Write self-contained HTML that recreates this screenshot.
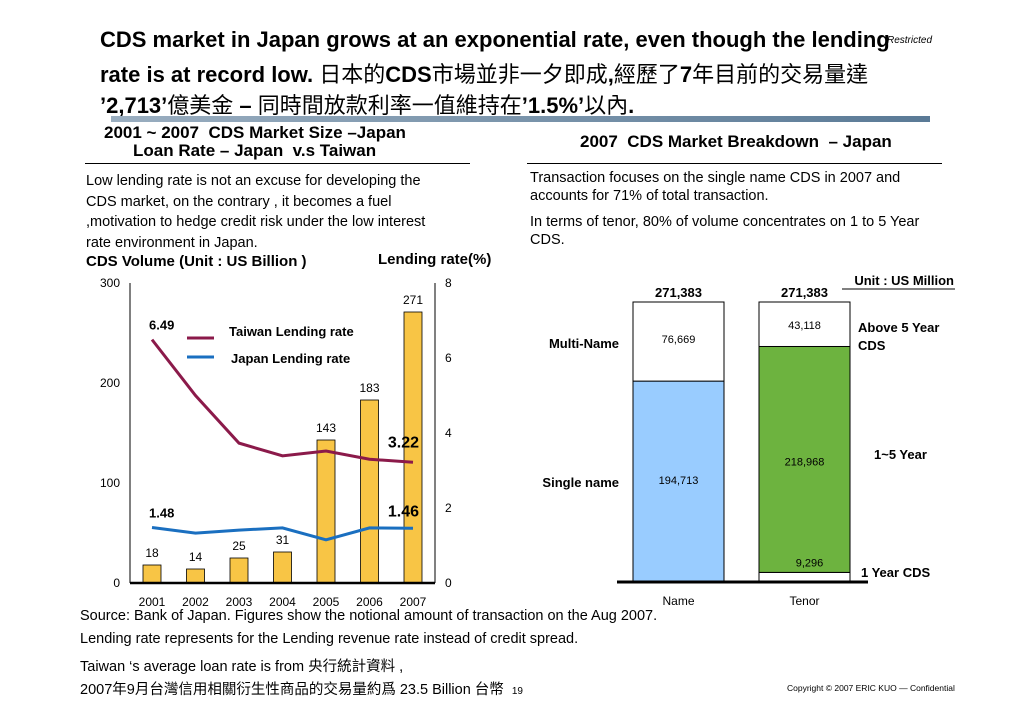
<!DOCTYPE html>
<html><head><meta charset="utf-8">
<style>
body{margin:0;width:1030px;height:728px;background:#fff;position:relative;overflow:hidden;font-family:"Liberation Sans","Noto Sans CJK TC",sans-serif;color:#000}
.t{position:absolute;white-space:nowrap;transform-origin:0 0}
.b{font-weight:bold}
svg text{font-family:"Liberation Sans","Noto Sans CJK TC",sans-serif}
</style></head><body>
<div class="t b" style="left:100px;top:27px;font-size:22px">CDS market in Japan grows at an exponential rate, even though the lending</div>
<div class="t" style="left:887px;top:35px;font-size:10px;font-style:italic">Restricted</div>
<div class="t b" style="left:100px;top:57px;font-size:22px">rate is at record low. <span style="font-weight:normal">日本的</span>CDS<span style="font-weight:normal">市場並非一夕即成</span>,<span style="font-weight:normal">經歷了</span>7<span style="font-weight:normal">年目前的交易量達</span></div>
<div class="t b" style="left:100px;top:88px;font-size:22px">’2,713’<span style="font-weight:normal">億美金</span> – <span style="font-weight:normal">同時間放款利率一值維持在</span>’1.5%’<span style="font-weight:normal">以內</span>.</div>
<div style="position:absolute;left:111px;top:116px;width:819px;height:6px;background:linear-gradient(90deg,#9aaec0,#5a7a96)"></div>

<div class="t b" style="left:104px;top:123px;font-size:17px">2001 ~ 2007&nbsp; CDS Market Size –Japan</div>
<div class="t b" style="left:133px;top:141px;font-size:17px">Loan Rate – Japan&nbsp; v.s Taiwan</div>
<div style="position:absolute;left:85px;top:163px;width:385px;height:1px;background:#000"></div>
<div class="t b" style="left:580px;top:132px;font-size:17px">2007&nbsp; CDS Market Breakdown&nbsp; – Japan</div>
<div style="position:absolute;left:527px;top:163px;width:415px;height:1px;background:#000"></div>

<div style="position:absolute;left:86px;top:171px;font-size:14.5px;line-height:20.5px;white-space:nowrap">Low lending rate is not an excuse for developing the<br>CDS market, on the contrary , it becomes a fuel<br>,motivation to hedge credit risk under the low interest<br>rate environment in Japan.</div>
<div style="position:absolute;left:530px;top:169px;font-size:14.5px;line-height:18px;white-space:nowrap">Transaction focuses on the single name CDS in 2007 and<br>accounts for 71% of total transaction.<div style="height:8px"></div>In terms of tenor, 80% of volume concentrates on 1 to 5 Year<br>CDS.</div>

<div class="t b" style="left:86px;top:253px;font-size:15px">CDS Volume (Unit : US Billion )</div>
<div class="t b" style="left:378px;top:251px;font-size:15px">Lending rate(%)</div>

<svg id="c1" style="position:absolute;left:0;top:0" width="1030" height="728"></svg>

<div class="t" style="left:80px;top:608px;font-size:14.5px">Source: Bank of Japan. Figures show the notional amount of transaction on the Aug 2007.</div>
<div class="t" style="left:80px;top:631px;font-size:14.5px">Lending rate represents for the Lending revenue rate instead of credit spread.</div>
<div class="t" style="left:80px;top:655px;font-size:14.5px">Taiwan ‘s average loan rate is from 央行統計資料 ,</div>
<div class="t" style="left:80px;top:678px;font-size:14.5px">2007年9月台灣信用相關衍生性商品的交易量約爲 23.5 Billion 台幣&nbsp; <span style="font-size:10px">19</span></div>
<div class="t" style="left:787px;top:683px;font-size:8.5px">Copyright © 2007 ERIC KUO — Confidential</div>

<script>
const years=["2001","2002","2003","2004","2005","2006","2007"];
const volume=[18,14,25,31,143,183,271];
const taiwanRate=[6.49,5.0,3.73,3.39,3.52,3.3,3.22];
const japanRate=[1.48,1.33,1.41,1.47,1.15,1.47,1.46];
const leftTicks=[0,100,200,300];
const rightTicks=[0,2,4,6,8];
const bkCats=["Name","Tenor"];
const nameSegs=[194713,76669];
const tenorSegs=[9296,218968,43118];
const bkTotals=[271383,271383];

const NS="http://www.w3.org/2000/svg";
const svg=document.getElementById('c1');
function mk(tag,attrs,txt){const e=document.createElementNS(NS,tag);for(const k in attrs)e.setAttribute(k,attrs[k]);if(txt!==undefined)e.textContent=txt;svg.appendChild(e);return e;}
const x0=130,x1=435,base=583,yTop=283;
const yL=v=>base-(v/300)*(base-yTop);
const yR=v=>base-(v/8)*(base-yTop);
const xC=i=>152+i*43.5;

let e=mk('line',{x1:x0,y1:yTop,x2:x0,y2:base,stroke:'#000','stroke-width':1});

e=mk('line',{x1:x1,y1:yTop,x2:x1,y2:base,stroke:'#000','stroke-width':1});

leftTicks.forEach(t=>{e=mk('text',{x:x0-10,y:yL(t)+4,'font-size':12,'text-anchor':'end'},t);
});
rightTicks.forEach(t=>{e=mk('text',{x:x1+10,y:yR(t)+4,'font-size':12},t);
});
volume.forEach((v,i)=>{
 e=mk('rect',{x:xC(i)-9,y:yL(v),width:18,height:base-yL(v),fill:'#f8c545',stroke:'#000','stroke-width':0.8});
 
 e=mk('text',{x:xC(i),y:yL(v)-8,'font-size':12,'text-anchor':'middle'},v);
 
 e=mk('text',{x:xC(i),y:base+23,'font-size':12,'text-anchor':'middle'},years[i]);
 
});
e=mk('line',{x1:x0,y1:base,x2:x1,y2:base,stroke:'#000','stroke-width':2.5});

e=mk('polyline',{points:taiwanRate.map((v,i)=>xC(i)+','+yR(v)).join(' '),fill:'none',stroke:'#8b1a4a','stroke-width':3});

e=mk('polyline',{points:japanRate.map((v,i)=>xC(i)+','+yR(v)).join(' '),fill:'none',stroke:'#1a6fc0','stroke-width':3});

e=mk('text',{x:xC(0)-3,y:yR(taiwanRate[0])-10,'font-size':13,'font-weight':'bold'},taiwanRate[0].toFixed(2));

e=mk('text',{x:xC(6)+6,y:yR(taiwanRate[6])-15,'font-size':16,'font-weight':'bold','text-anchor':'end'},taiwanRate[6].toFixed(2));

e=mk('text',{x:xC(0)-3,y:yR(japanRate[0])-10,'font-size':13,'font-weight':'bold'},japanRate[0].toFixed(2));

e=mk('text',{x:xC(6)+6,y:yR(japanRate[6])-12,'font-size':16,'font-weight':'bold','text-anchor':'end'},japanRate[6].toFixed(2));

e=mk('line',{x1:187,y1:338,x2:214,y2:338,stroke:'#8b1a4a','stroke-width':3});

e=mk('text',{x:229,y:336,'font-size':13,'font-weight':'bold'},'Taiwan Lending rate');

e=mk('line',{x1:187,y1:357,x2:214,y2:357,stroke:'#1a6fc0','stroke-width':3});

e=mk('text',{x:231,y:363,'font-size':13,'font-weight':'bold'},'Japan Lending rate');


// breakdown chart
const bBase=582,bTopPx=280;
const hB=v=>v/bkTotals[0]*bTopPx;
const bx=[633,759],bw=91;
const fmt=v=>v.toLocaleString('en-US');
let y=bBase;
const nameFill=['#99ccff','#fff'];
nameSegs.forEach((v,i)=>{const h=hB(v);y-=h;
 e=mk('rect',{x:bx[0],y:y,width:bw,height:h,fill:nameFill[i],stroke:'#000','stroke-width':1});
 });
y=bBase;
const tenorFill=['#fff','#6db33f','#fff'];
tenorSegs.forEach((v,i)=>{const h=hB(v);y-=h;
 e=mk('rect',{x:bx[1],y:y,width:bw,height:h,fill:tenorFill[i],stroke:'#000','stroke-width':1});
 });
let nTop=bBase-hB(nameSegs[0]);
e=mk('text',{x:bx[0]+bw/2,y:nTop+103,'font-size':11,'text-anchor':'middle'},fmt(nameSegs[0]));

e=mk('text',{x:bx[0]+bw/2,y:nTop-38,'font-size':11,'text-anchor':'middle'},fmt(nameSegs[1]));

e=mk('text',{x:bx[1]+bw/2+5,y:bBase-hB(tenorSegs[0])-6,'font-size':11,'text-anchor':'middle'},fmt(tenorSegs[0]));

e=mk('text',{x:bx[1]+bw/2,y:bBase-hB(tenorSegs[0])-107,'font-size':11,'text-anchor':'middle'},fmt(tenorSegs[1]));

e=mk('text',{x:bx[1]+bw/2,y:bBase-hB(bkTotals[1])+27,'font-size':11,'text-anchor':'middle'},fmt(tenorSegs[2]));

bkCats.forEach((c,i)=>{
 e=mk('text',{x:bx[i]+bw/2,y:bBase-hB(bkTotals[i])-5,'font-size':13,'font-weight':'bold','text-anchor':'middle'},fmt(bkTotals[i]));
 
 e=mk('text',{x:bx[i]+bw/2,y:bBase+23,'font-size':12,'text-anchor':'middle'},c);
 
});
e=mk('line',{x1:617,y1:bBase,x2:868,y2:bBase,stroke:'#000','stroke-width':3});

const lab=(t,xx,yy,n,anchor)=>{e=mk('text',{x:xx,y:yy,'font-size':13,'font-weight':'bold','text-anchor':anchor||'start'},t);
 };
lab('Multi-Name',619,348,'multi-name-label','end');
lab('Single name',619,487,'single-name-label','end');
lab('Above 5 Year',858,332,'above-five-year-label');
lab('CDS',858,350,'above-five-year-label-cont');
lab('1~5 Year',874,459,'one-to-five-year-label');
lab('1 Year CDS',861,577,'one-year-label');
lab('Unit : US Million',954,285,'unit-label','end');
e=mk('line',{x1:842,y1:289,x2:955,y2:289,stroke:'#000','stroke-width':1});

</script>
</body></html>
